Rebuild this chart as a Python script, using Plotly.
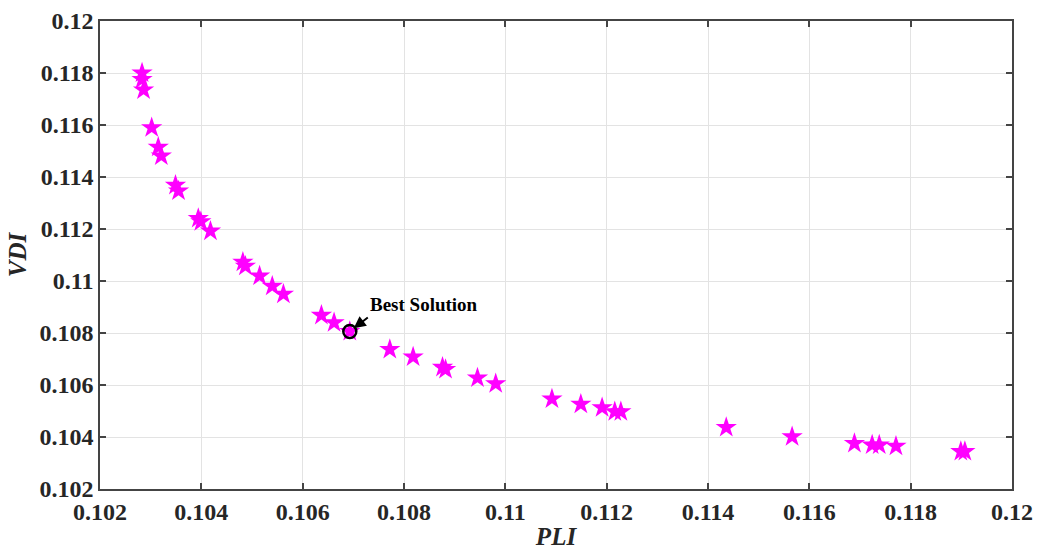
import plotly.graph_objects as go

# Pareto front: power loss index vs voltage deviation index
pli = [0.10283, 0.10283, 0.10286, 0.10302, 0.10315, 0.10321, 0.10349, 0.10355,
       0.10394, 0.10399, 0.10418, 0.10482, 0.10487, 0.10515, 0.1054, 0.10562,
       0.10637, 0.10662, 0.10693, 0.10772, 0.10818, 0.10876, 0.10882, 0.10945,
       0.10981, 0.11092, 0.11149, 0.11191, 0.11216, 0.11228, 0.11436, 0.11566,
       0.11689, 0.11724, 0.11738, 0.11771, 0.11899, 0.11907]
vdi = [0.11800, 0.11775, 0.11735, 0.11590, 0.11515, 0.11481, 0.11368, 0.11346,
       0.11241, 0.11228, 0.11192, 0.11072, 0.11057, 0.11019, 0.10980, 0.10949,
       0.10868, 0.10840, 0.10806, 0.10737, 0.10708, 0.10668, 0.10660, 0.10627,
       0.10605, 0.10546, 0.10526, 0.10513, 0.10497, 0.10497, 0.10437, 0.10401,
       0.10375, 0.10369, 0.10369, 0.10365, 0.10344, 0.10344]

best_pli = [0.10693]
best_vdi = [0.10806]

tick_vals = [0.102, 0.104, 0.106, 0.108, 0.11, 0.112, 0.114, 0.116, 0.118, 0.12]
tick_text = ["0.102", "0.104", "0.106", "0.108", "0.11", "0.112", "0.114",
             "0.116", "0.118", "0.12"]

FONT = "Liberation Serif"

fig = go.Figure()
fig.add_trace(go.Scatter(
    x=pli, y=vdi, mode="markers",
    marker=dict(symbol="star", size=16, color="#ff00ff",
                line=dict(width=0)),
    showlegend=False, hoverinfo="x+y"))
fig.add_trace(go.Scatter(
    x=best_pli, y=best_vdi, mode="markers",
    marker=dict(symbol="circle-open", size=13, color="black",
                line=dict(width=2.5, color="black")),
    showlegend=False))

fig.add_annotation(
    x=best_pli[0], y=best_vdi[0], xref="x", yref="y",
    text="<b>Best Solution</b>", showarrow=True,
    ax=18, ay=-14, xanchor="left", yanchor="bottom",
    arrowhead=2, arrowsize=1.2, arrowwidth=2, arrowcolor="black",
    standoff=5,
    font=dict(family=FONT, size=19, color="black"))

axis_common = dict(
    tickvals=tick_vals, ticktext=tick_text,
    range=[0.102, 0.12],
    showgrid=True, gridcolor="#e3e3e3", gridwidth=1,
    zeroline=False,
    showline=True, linecolor="#444444", linewidth=1.5, mirror="ticks",
    ticks="inside", ticklen=6, tickcolor="#444444", tickwidth=1.5,
    tickfont=dict(family=FONT, size=24, color="#262626", weight="bold"),
    automargin=False,
)

fig.update_xaxes(**axis_common,
                 title=dict(text="<b><i>PLI</i></b>", standoff=10,
                            font=dict(family=FONT, size=25, color="#262626")))
fig.update_yaxes(**axis_common,
                 title=dict(text="<b><i>VDI</i></b>", standoff=6,
                            font=dict(family=FONT, size=25, color="#262626")))

fig.update_layout(
    width=1038, height=550,
    margin=dict(l=100, r=26, t=21, b=61),
    plot_bgcolor="white", paper_bgcolor="white",
)

fig.write_html("out.html")
